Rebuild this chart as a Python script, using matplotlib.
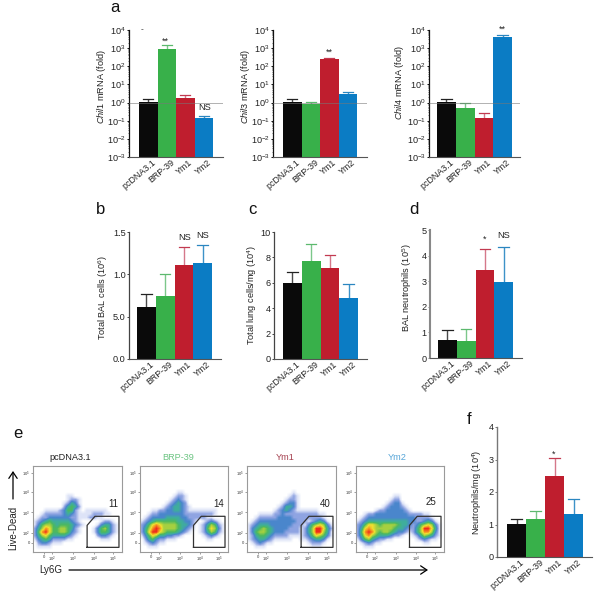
import matplotlib
matplotlib.use("Agg")
import matplotlib.pyplot as plt
import numpy as np
from matplotlib.colors import LinearSegmentedColormap
from matplotlib.ticker import FixedLocator, NullFormatter
from matplotlib.transforms import ScaledTranslation

plt.rcParams["font.family"] = ["Liberation Sans", "DejaVu Sans"]
plt.rcParams["mathtext.fontset"] = "custom"
plt.rcParams["mathtext.rm"] = "Liberation Sans"
plt.rcParams["mathtext.it"] = "Liberation Sans:italic"
plt.rcParams["mathtext.default"] = "regular"

W, H = 598, 599

groups = ["pcDNA3.1", "BRP-39", "Ym1", "Ym2"]
bar_colors = ["#0a0a0a", "#38b04a", "#bf1e2e", "#0b7cc4"]
err_colors = ["#4a4a4a", "#7cc78a", "#d5788a", "#3d92c8"]
cap_colors = ["#222222", "#5cb96e", "#c23a50", "#2a86c0"]

chil1_vals = [1.1, 900, 1.8, 0.15]
chil1_tops = [1.5, 1500, 2.7, 0.19]
chil3_vals = [1.1, 0.8, 240, 2.8]
chil3_tops = [1.5, 1.1, 300, 3.8]
chil4_vals = [1.1, 0.5, 0.15, 4300]
chil4_tops = [1.5, 1.0, 0.25, 5500]
bal_vals = [0.62, 0.74, 1.11, 1.13]
bal_tops = [0.77, 1.0, 1.32, 1.35]
lung_vals = [5.95, 7.7, 7.2, 4.82]
lung_tops = [6.85, 9.05, 8.15, 5.9]
neut_vals = [0.72, 0.65, 3.42, 2.98]
neut_tops = [1.08, 1.15, 4.27, 4.35]
neutmg_vals = [1.02, 1.17, 2.5, 1.32]
neutmg_tops = [1.18, 1.42, 3.05, 1.77]

log_ticks = [1e-3, 1e-2, 1e-1, 1, 1e1, 1e2, 1e3, 1e4]
log_labels = ["10$^{-3}$", "10$^{-2}$", "10$^{-1}$", "10$^{0}$", "10$^{1}$", "10$^{2}$", "10$^{3}$", "10$^{4}$"]

# density, 0 = white ... 9 = red
flow_pcdna = [
    "000000000000000000000000",
    "000000000000000000000000",
    "000000000000000000000000",
    "000000000000000000000000",
    "000000000000000000000000",
    "000000000000000000000000",
    "000000000000000000000000",
    "000000000000000000000000",
    "000000000110000000000000",
    "000000000122100000000000",
    "000000001243100000000000",
    "000000002454200000000000",
    "000111123552101111110000",
    "001222223432111122211000",
    "012233333322111221100000",
    "123454444432100000122100",
    "135665455543210001344210",
    "246875566542100013564210",
    "258975566532100013554210",
    "246754444321000002332100",
    "134542222110000000111000",
    "023321110000000000000000",
    "011110000000000000000000",
    "000000000000000000000000",
]
flow_brp = [
    "000000000000000000000000",
    "000000000000000000000000",
    "000000000000000000000000",
    "000000000000000000000000",
    "000000000000000000000000",
    "000000000000000000000000",
    "000000000000000000000000",
    "000000000011000000000000",
    "000000000122100000000000",
    "000000001232100000000000",
    "000000012343200000000000",
    "000000123443210000000000",
    "000112233443211111111000",
    "001223333333222222221000",
    "012333344443322222110000",
    "123455555544332101232100",
    "235787666654432012465210",
    "246898666654321012576310",
    "247997655543210012465210",
    "135764433221000001232100",
    "024532211100000000110000",
    "012321100000000000000000",
    "001110000000000000000000",
    "000000000000000000000000",
]
flow_ym1 = [
    "000000000000000000000000",
    "000000000000000000000000",
    "000000000000000000000000",
    "000000000000000000000000",
    "000000000000000000000000",
    "000000000000000000000000",
    "000000000000000000000000",
    "000000000000100000000000",
    "000000000001210000000000",
    "000000000012210000000000",
    "000000000123310000000000",
    "000000001244310000000000",
    "000000012343211111100000",
    "000111122322222222211000",
    "001222223333222222221000",
    "012333333333322212343100",
    "123444333333222135676310",
    "134565433332221246997420",
    "135665433322221246996410",
    "124554322221111235765310",
    "123443211111001123443100",
    "012321100000000012221000",
    "001110000000000001110000",
    "000000000000000000000000",
]
flow_ym2 = [
    "000000000000000000000000",
    "000000000000000000000000",
    "000000000000000000000000",
    "000000000000000000000000",
    "000000000000000000000000",
    "000000000000000000000000",
    "000000000000000000000000",
    "000000000000000000000000",
    "000000000011000000000000",
    "000000000122000000000000",
    "000000001233100000000000",
    "000000012333210000000000",
    "000001223333321000000000",
    "001223333333332222110000",
    "012333333333333322221000",
    "123444444444443322343100",
    "235776566665443235676310",
    "247876666654432246997410",
    "258986566543321246886310",
    "247865444322100124654210",
    "135643221100000012321100",
    "012321100000000000110000",
    "001110000000000000000000",
    "000000000000000000000000",
]
flow_titles = ["pcDNA3.1", "BRP-39", "Ym1", "Ym2"]
flow_title_colors = ["#222222", "#6cc482", "#a5404f", "#55a5d8"]
flow_gates = ["11", "14", "40", "25"]

flow_cmap = LinearSegmentedColormap.from_list(
    "flow",
    ["#ffffff", "#dde3f7", "#8ea3e2", "#4a86cc", "#3fae9c", "#4cb860", "#a5d040", "#f0e030", "#f59020", "#ee2a1e"],
)


def box(l, r, t, b):
    return [l / W, 1 - b / H, (r - l) / W, (b - t) / H]


def bar_panel(rect, bar_span, vals, tops, ylim, log=False, ticks=None, labels=None, spine="#444444", spine_w=0.9):
    l, r, t, b = rect
    ax = fig.add_axes(box(l, r, t, b))
    bw = (bar_span[1] - bar_span[0]) / 4
    ax.set_xlim(-0.5 - (bar_span[0] - l) / bw, 3.5 + (r - bar_span[1]) / bw)
    if log:
        ax.set_yscale("log")
    ax.set_ylim(*ylim)
    x = np.arange(4)
    base = ylim[0]
    ax.bar(x, np.array(vals) - base, bottom=base, width=1.0, color=bar_colors, zorder=2)
    for i in range(4):
        ax.plot([i, i], [vals[i], tops[i]], color=err_colors[i], lw=1.0, zorder=1.5, solid_capstyle="butt")
        ax.plot([i - 0.28, i + 0.28], [tops[i], tops[i]], color=cap_colors[i], lw=0.9, zorder=1.5)
    if log:
        ax.axhline(1, color="#777777", lw=0.5, alpha=0.8, zorder=3)
    for s in ["top", "right"]:
        ax.spines[s].set_visible(False)
    ax.spines["left"].set_color(spine)
    ax.spines["left"].set_linewidth(spine_w)
    ax.spines["bottom"].set_color("#555555")
    ax.spines["bottom"].set_linewidth(0.8)
    ax.set_xticks(x)
    ax.set_xticklabels(groups, rotation=40, ha="right", rotation_mode="anchor", fontsize=6.4, color="#222222")
    ax.tick_params(axis="x", length=0, pad=0.5)
    # labels sit a little right of the bar centre in the original
    shift = ScaledTranslation(3.5 / 100, 0, fig.dpi_scale_trans)
    for lab in ax.get_xticklabels():
        lab.set_transform(lab.get_transform() + shift)
    ax.set_yticks(ticks)
    ax.set_yticklabels(labels, fontsize=6.6, color="#222222")
    ax.tick_params(axis="y", length=1.5, width=0.7, pad=0.8, color=spine)
    if log:
        minors = [m * 10.0 ** e for e in range(-3, 4) for m in range(2, 10)]
        ax.yaxis.set_minor_locator(FixedLocator(minors))
        ax.yaxis.set_minor_formatter(NullFormatter())
        ax.tick_params(axis="y", which="minor", length=0.9, width=0.4, color=spine)
    ax.patch.set_alpha(0)
    return ax


def flow_panel(rect, rows, title, title_color, title_x, gate, gate_xy):
    l, r, t, b = rect
    ax = fig.add_axes(box(l, r, t, b))
    grid = np.array([[int(c) for c in row] for row in rows], dtype=float)
    ax.imshow(grid, extent=(0, 1, 0, 1), aspect="auto", cmap=flow_cmap, vmin=0, vmax=9, interpolation="bilinear")
    ax.plot([0.608, 0.608, 0.696, 0.966, 0.966, 0.608], [0.054, 0.31, 0.415, 0.415, 0.054, 0.054], color="#333333", lw=0.9)
    ax.set_xlim(0, 1)
    ax.set_ylim(0, 1)
    ax.set_xticks([0.124, 0.213, 0.45, 0.685, 0.90])
    ax.set_xticklabels(["0", "10$^2$", "10$^3$", "10$^4$", "10$^5$"], fontsize=3)
    ax.set_yticks([0.105, 0.22, 0.46, 0.70, 0.92])
    ax.set_yticklabels(["0", "10$^2$", "10$^3$", "10$^4$", "10$^5$"], fontsize=3)
    ax.tick_params(length=1.2, width=0.4, pad=1, color="#555555", labelcolor="#333333")
    for s in ax.spines.values():
        s.set_color("#9a9a9a")
        s.set_linewidth(0.8)
    over.text(title_x, 457, title, color=title_color, fontsize=6.6, ha="center", va="center")
    over.text(gate_xy[0], gate_xy[1], gate, color="#222222", fontsize=7, ha="center", va="center")


fig = plt.figure(figsize=(W / 100, H / 100), dpi=100)
over = fig.add_axes([0, 0, 1, 1], zorder=5)
over.set_xlim(0, W)
over.set_ylim(H, 0)
over.axis("off")

bar_panel((129, 223, 30, 157), (139, 213), chil1_vals, chil1_tops, (1e-3, 1e4), True, log_ticks, log_labels, "#111111")
bar_panel((273, 367, 30, 157), (283, 357), chil3_vals, chil3_tops, (1e-3, 1e4), True, log_ticks, log_labels, "#111111")
bar_panel((429, 520, 30, 157), (437, 512), chil4_vals, chil4_tops, (1e-3, 1e4), True, log_ticks, log_labels, "#111111")
bar_panel((129, 221, 232, 359), (137, 212), bal_vals, bal_tops, (0, 1.5), False, [0, 0.5, 1.0, 1.5], ["0.0", "5.0", "1.0", "1.5"])
bar_panel((274, 367, 232, 359), (283, 358), lung_vals, lung_tops, (0, 10), False, [0, 2, 4, 6, 8, 10], ["0", "2", "4", "6", "8", "10"])
bar_panel((430, 522, 230, 358), (438, 513), neut_vals, neut_tops, (0, 5), False, [0, 1, 2, 3, 4, 5], ["0", "1", "2", "3", "4", "5"], "#888888", 1.5)
bar_panel((497, 592, 427, 557), (507, 583), neutmg_vals, neutmg_tops, (0, 4), False, [0, 1, 2, 3, 4], ["0", "1", "2", "3", "4"], "#777777", 1.0)

flow_panel((33, 122, 466, 552), flow_pcdna, flow_titles[0], flow_title_colors[0], 70, flow_gates[0], (113, 504))
flow_panel((140, 228, 466, 552), flow_brp, flow_titles[1], flow_title_colors[1], 178, flow_gates[1], (219, 504))
flow_panel((247, 336, 466, 552), flow_ym1, flow_titles[2], flow_title_colors[2], 285, flow_gates[2], (325, 504))
flow_panel((356, 444, 466, 552), flow_ym2, flow_titles[3], flow_title_colors[3], 397, flow_gates[3], (431, 502))

# panel letters
for letter, px, py in [("a", 115, 8), ("b", 101, 209), ("c", 252, 209), ("d", 414, 209), ("e", 18, 433), ("f", 469, 419)]:
    over.text(px, py, letter, fontsize=12, ha="center", va="center", color="#111111")

# y labels
for label, px, py in [
    ("$\\mathit{Chil1}$ mRNA (fold)", 101, 87),
    ("$\\mathit{Chil3}$ mRNA (fold)", 245, 87),
    ("$\\mathit{Chil4}$ mRNA (fold)", 399, 83),
    ("Total BAL cells (10$^6$)", 103, 298),
    ("Total lung cells/mg (10$^4$)", 252, 295),
    ("BAL neutrophils (10$^5$)", 407, 288),
    ("Neutrophils/mg (10$^4$)", 477, 492),
]:
    over.text(px, py, label, rotation=90, fontsize=6.6, ha="center", va="center", color="#222222")

# significance marks
for mark, px, py, size in [
    ("-", 142, 30, 6), ("**", 165, 41, 6.5), ("NS", 205, 108, 6.6),
    ("**", 329, 52, 6.5), ("**", 502, 29, 6.5),
    ("NS", 185, 238, 6.6), ("NS", 203, 236, 6.6),
    ("*", 485, 239, 6.5), ("NS", 504, 236, 6.6), ("*", 554, 454, 6.5),
]:
    over.text(px, py, mark, fontsize=size, ha="center", va="center", color="#222222")

# flow axis captions and arrows
over.text(13, 528, "Live-Dead", rotation=90, fontsize=7, ha="center", va="center", color="#222222")
over.text(51, 570, "Ly6G", fontsize=7, ha="center", va="center", color="#222222")
over.annotate("", xy=(13, 471), xytext=(13, 499), arrowprops=dict(arrowstyle="->,head_width=0.3,head_length=0.45", color="black", lw=0.9, shrinkA=0, shrinkB=0))
over.annotate("", xy=(428, 570), xytext=(69, 570), arrowprops=dict(arrowstyle="->,head_width=0.3,head_length=0.45", color="black", lw=0.9, shrinkA=0, shrinkB=0))

fig.savefig("out.png", dpi=100)
plt.close(fig)
